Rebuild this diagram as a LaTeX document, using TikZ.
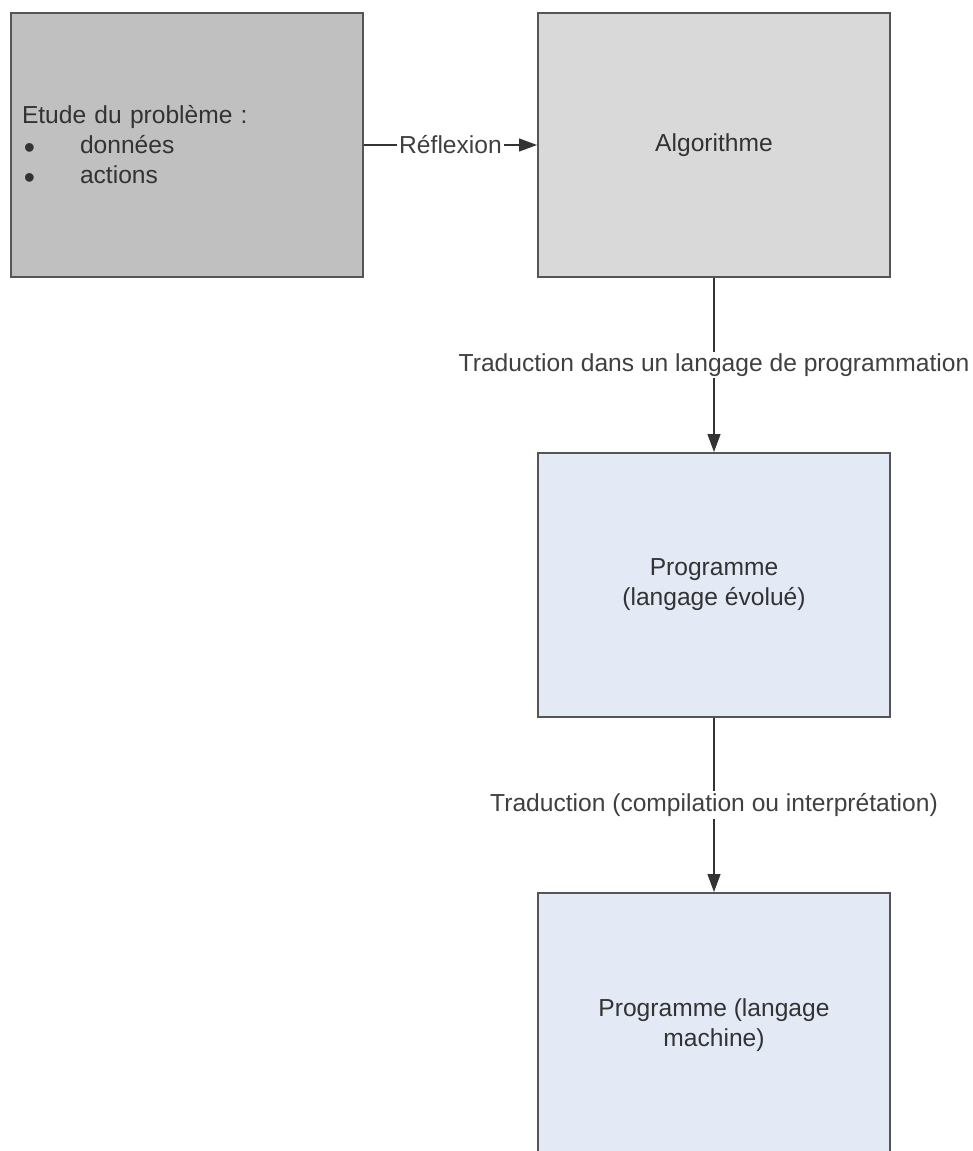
\documentclass[tikz,border=0pt]{standalone}
\usepackage{fontspec}
\setmainfont{Liberation Sans}
\usepackage{xcolor}
\usetikzlibrary{arrows.meta, positioning}
\definecolor{etudegrey}{HTML}{C0C0C0}
\definecolor{algogrey}{HTML}{D9D9D9}
\definecolor{progblue}{HTML}{E4EAF5}
\definecolor{edgegrey}{HTML}{555555}
\newcommand{\puce}{\makebox[29pt][l]{\hspace{1pt}\smash{\raisebox{-2.2pt}{\fontsize{16}{15}\selectfont •}}}}
\tikzset{
  box/.style={draw=edgegrey, line width=1pt, minimum width=176pt, minimum height=132pt,
    text=black!80, align=center, inner sep=5.5pt},
  flow/.style={-{Triangle[length=9pt, width=6.5pt]}, line width=0.6pt, black!80},
  lbl/.style={fill=white, inner sep=1pt, text=black!75}
}

\begin{document}
\begin{tikzpicture}[x=0.5pt, y=-0.5pt, font=\fontsize{12.3}{15}\selectfont]
        \useasboundingbox (0,0) rectangle (973,1151);

        % Etude du probleme
        \node[box, fill=etudegrey, text width=165pt, align=left] (etude) at (187,145)
            {Etude du problème :\\
             \puce données\\
             \puce actions};

        % Algorithme
        \node[box, fill=algogrey] (algo) at (714,145) {Algorithme};

        % Programme (langage evolue)
        \node[box, fill=progblue] (prog) at (714,585) {Programme\\(langage évolué)};

        % Programme (langage machine), cut by the page edge
        \node[box, fill=progblue] (machine) at (714,1025) {Programme (langage\\machine)};

        % Arrows
        \draw[flow] (etude) -- node[lbl] {Réflexion} (algo);
        \draw[flow] (algo) -- node[lbl] {Traduction dans un langage de programmation} (prog);
        \draw[flow] (prog) -- node[lbl] {Traduction (compilation ou interprétation)} (machine);
    \end{tikzpicture}
\end{document}
